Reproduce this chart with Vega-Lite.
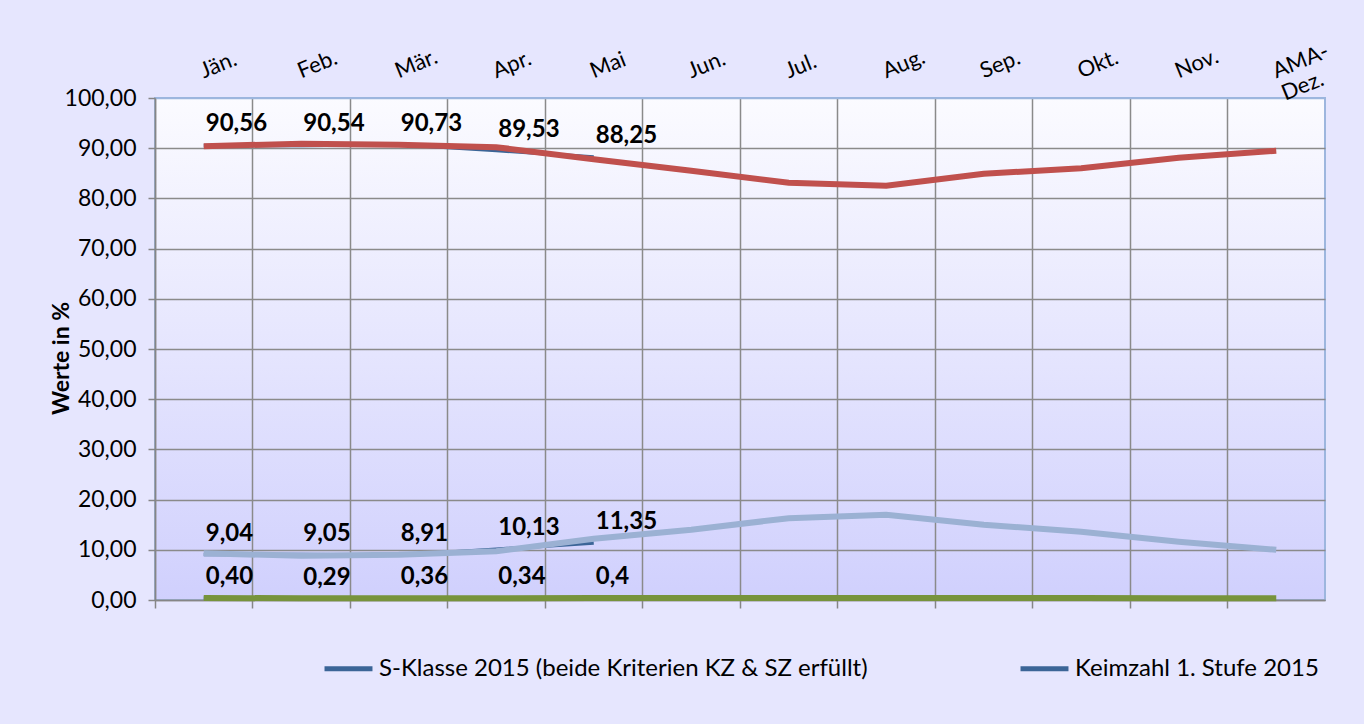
{
  "$schema": "https://vega.github.io/schema/vega-lite/v6.json",
  "width": 1170,
  "height": 502,
  "autosize": {"type": "none"},
  "padding": {"left": 155, "top": 98, "right": 39, "bottom": 124},
  "background": "#e6e6fe",
  "view": {
    "fill": {"gradient": "linear", "x1": 0, "y1": 0, "x2": 0, "y2": 1, "stops": [{"offset": 0, "color": "#fbfbff"}, {"offset": 1, "color": "#d0d0fd"}]},
    "stroke": "#9db6de",
    "strokeWidth": 2
  },
  "config": {"font": "Lato"},
  "data": {
    "values": [
      {"monat": "Jän.", "serie": "S-Klasse 2015 (beide Kriterien KZ & SZ erfüllt)", "wert": 90.56, "label": "90,56"},
      {"monat": "Feb.", "serie": "S-Klasse 2015 (beide Kriterien KZ & SZ erfüllt)", "wert": 90.54, "label": "90,54"},
      {"monat": "Mär.", "serie": "S-Klasse 2015 (beide Kriterien KZ & SZ erfüllt)", "wert": 90.73, "label": "90,73"},
      {"monat": "Apr.", "serie": "S-Klasse 2015 (beide Kriterien KZ & SZ erfüllt)", "wert": 89.53, "label": "89,53"},
      {"monat": "Mai", "serie": "S-Klasse 2015 (beide Kriterien KZ & SZ erfüllt)", "wert": 88.25, "label": "88,25"},
      {"monat": "Jän.", "serie": "Keimzahl 1. Stufe 2015", "wert": 9.04, "label": "9,04"},
      {"monat": "Feb.", "serie": "Keimzahl 1. Stufe 2015", "wert": 9.05, "label": "9,05"},
      {"monat": "Mär.", "serie": "Keimzahl 1. Stufe 2015", "wert": 8.91, "label": "8,91"},
      {"monat": "Apr.", "serie": "Keimzahl 1. Stufe 2015", "wert": 10.13, "label": "10,13"},
      {"monat": "Mai", "serie": "Keimzahl 1. Stufe 2015", "wert": 11.35, "label": "11,35"},
      {"monat": "Jän.", "serie": "Zellzahl 2015", "wert": 0.40, "label": "0,40"},
      {"monat": "Feb.", "serie": "Zellzahl 2015", "wert": 0.29, "label": "0,29"},
      {"monat": "Mär.", "serie": "Zellzahl 2015", "wert": 0.36, "label": "0,36"},
      {"monat": "Apr.", "serie": "Zellzahl 2015", "wert": 0.34, "label": "0,34"},
      {"monat": "Mai", "serie": "Zellzahl 2015", "wert": 0.40, "label": "0,4"},
      {"monat": "Jän.", "serie": "S-Klasse Vorjahr", "wert": 90.4},
      {"monat": "Feb.", "serie": "S-Klasse Vorjahr", "wert": 90.9},
      {"monat": "Mär.", "serie": "S-Klasse Vorjahr", "wert": 90.7},
      {"monat": "Apr.", "serie": "S-Klasse Vorjahr", "wert": 90.2},
      {"monat": "Mai", "serie": "S-Klasse Vorjahr", "wert": 87.8},
      {"monat": "Jun.", "serie": "S-Klasse Vorjahr", "wert": 85.5},
      {"monat": "Jul.", "serie": "S-Klasse Vorjahr", "wert": 83.1},
      {"monat": "Aug.", "serie": "S-Klasse Vorjahr", "wert": 82.5},
      {"monat": "Sep.", "serie": "S-Klasse Vorjahr", "wert": 84.9},
      {"monat": "Okt.", "serie": "S-Klasse Vorjahr", "wert": 86.0},
      {"monat": "Nov.", "serie": "S-Klasse Vorjahr", "wert": 88.1},
      {"monat": "Dez.", "serie": "S-Klasse Vorjahr", "wert": 89.5},
      {"monat": "Jän.", "serie": "Keimzahl 1. Stufe Vorjahr", "wert": 9.3},
      {"monat": "Feb.", "serie": "Keimzahl 1. Stufe Vorjahr", "wert": 8.8},
      {"monat": "Mär.", "serie": "Keimzahl 1. Stufe Vorjahr", "wert": 9.0},
      {"monat": "Apr.", "serie": "Keimzahl 1. Stufe Vorjahr", "wert": 9.7},
      {"monat": "Mai", "serie": "Keimzahl 1. Stufe Vorjahr", "wert": 12.2},
      {"monat": "Jun.", "serie": "Keimzahl 1. Stufe Vorjahr", "wert": 14.0},
      {"monat": "Jul.", "serie": "Keimzahl 1. Stufe Vorjahr", "wert": 16.3},
      {"monat": "Aug.", "serie": "Keimzahl 1. Stufe Vorjahr", "wert": 17.0},
      {"monat": "Sep.", "serie": "Keimzahl 1. Stufe Vorjahr", "wert": 15.0},
      {"monat": "Okt.", "serie": "Keimzahl 1. Stufe Vorjahr", "wert": 13.6},
      {"monat": "Nov.", "serie": "Keimzahl 1. Stufe Vorjahr", "wert": 11.6},
      {"monat": "Dez.", "serie": "Keimzahl 1. Stufe Vorjahr", "wert": 10.0},
      {"monat": "Jän.", "serie": "Zellzahl Vorjahr", "wert": 0.40},
      {"monat": "Feb.", "serie": "Zellzahl Vorjahr", "wert": 0.35},
      {"monat": "Mär.", "serie": "Zellzahl Vorjahr", "wert": 0.37},
      {"monat": "Apr.", "serie": "Zellzahl Vorjahr", "wert": 0.36},
      {"monat": "Mai", "serie": "Zellzahl Vorjahr", "wert": 0.38},
      {"monat": "Jun.", "serie": "Zellzahl Vorjahr", "wert": 0.38},
      {"monat": "Jul.", "serie": "Zellzahl Vorjahr", "wert": 0.41},
      {"monat": "Aug.", "serie": "Zellzahl Vorjahr", "wert": 0.42},
      {"monat": "Sep.", "serie": "Zellzahl Vorjahr", "wert": 0.40},
      {"monat": "Okt.", "serie": "Zellzahl Vorjahr", "wert": 0.41},
      {"monat": "Nov.", "serie": "Zellzahl Vorjahr", "wert": 0.37},
      {"monat": "Dez.", "serie": "Zellzahl Vorjahr", "wert": 0.37}
    ]
  },
  "encoding": {
    "x": {
      "field": "monat",
      "type": "nominal",
      "scale": {"type": "band", "domain": ["Jän.", "Feb.", "Mär.", "Apr.", "Mai", "Jun.", "Jul.", "Aug.", "Sep.", "Okt.", "Nov.", "Dez."], "paddingInner": 0, "paddingOuter": 0},
      "axis": null
    },
    "y": {
      "field": "wert",
      "type": "quantitative",
      "scale": {"domain": [0, 100], "nice": false},
      "axis": {
        "values": [0, 10, 20, 30, 40, 50, 60, 70, 80, 90, 100],
        "labelExpr": "replace(format(datum.value, '.2f'), '.', ',')",
        "labelFontSize": 23,
        "labelColor": "#000000",
        "labelPadding": 12,
        "tickSize": 7,
        "tickColor": "#868686",
        "tickWidth": 1.5,
        "domainColor": "#868686",
        "domainWidth": 1.5,
        "gridColor": {"condition": {"test": "datum.value === 100", "value": "#9db6de"}, "value": "#8a8a8a"},
        "gridWidth": 1.5,
        "title": "Werte in %",
        "titleFontSize": 23,
        "titleFontWeight": "bold",
        "titleColor": "#000000",
        "titleAngle": -90,
        "titleX": -94,
        "titleY": 260,
        "titleAlign": "center",
        "titleBaseline": "middle"
      }
    }
  },
  "resolve": {"axis": {"x": "independent"}},
  "layer": [
    {
      "transform": [{"filter": "datum.serie === 'S-Klasse 2015 (beide Kriterien KZ & SZ erfüllt)' || datum.serie === 'Keimzahl 1. Stufe 2015'"}],
      "mark": {"type": "line", "strokeWidth": 3.5},
      "encoding": {
        "x": {
          "field": "monat",
          "type": "nominal",
          "scale": {"type": "band", "domain": ["Jän.", "Feb.", "Mär.", "Apr.", "Mai", "Jun.", "Jul.", "Aug.", "Sep.", "Okt.", "Nov.", "Dez."], "paddingInner": 0, "paddingOuter": 0},
          "axis": {
            "orient": "bottom",
            "labels": false,
            "title": null,
            "bandPosition": 0,
            "tickSize": 8,
            "tickColor": "#868686",
            "tickWidth": 1.5,
            "domainColor": "#868686",
            "domainWidth": 1.5,
            "grid": true,
            "gridColor": "#8a8a8a",
            "gridWidth": 1.5
          }
        },
        "color": {
          "field": "serie",
          "type": "nominal",
          "scale": {"domain": ["S-Klasse 2015 (beide Kriterien KZ & SZ erfüllt)", "Keimzahl 1. Stufe 2015"], "range": ["#3b6597", "#3b6597"]},
          "legend": {
            "orient": "none",
            "legendX": 167,
            "legendY": 544,
            "direction": "horizontal",
            "title": null,
            "symbolType": "stroke",
            "symbolStrokeWidth": 5,
            "symbolSize": 2300,
            "symbolStrokeColor": "#3b6597",
            "labelFontSize": 24,
            "labelColor": "#000000",
            "labelLimit": 0,
            "labelOffset": 4,
            "columnPadding": 142
          }
        }
      }
    },
    {
      "transform": [{"filter": "datum.serie === 'Zellzahl 2015'"}],
      "mark": {"type": "line", "strokeWidth": 3.5, "color": "#3b6597"},
      "encoding": {}
    },
    {
      "transform": [{"filter": "datum.serie === 'S-Klasse Vorjahr'"}],
      "mark": {"type": "line", "strokeWidth": 6, "color": "#c0504d"},
      "encoding": {}
    },
    {
      "transform": [{"filter": "datum.serie === 'Keimzahl 1. Stufe Vorjahr'"}],
      "mark": {"type": "line", "strokeWidth": 6, "color": "#9bb1d3"},
      "encoding": {}
    },
    {
      "transform": [{"filter": "datum.serie === 'Zellzahl Vorjahr'"}],
      "mark": {"type": "line", "strokeWidth": 6, "color": "#77933c"},
      "encoding": {}
    },
    {
      "transform": [{"filter": "isValid(datum.label)"}],
      "mark": {"type": "text", "align": "left", "baseline": "middle", "dx": 2, "dy": -21, "fontSize": 24, "fontWeight": "bold", "color": "#000000"},
      "encoding": {
        "x": {
          "field": "monat",
          "type": "nominal",
          "scale": {"type": "band", "domain": ["Jän.", "Feb.", "Mär.", "Apr.", "Mai", "Jun.", "Jul.", "Aug.", "Sep.", "Okt.", "Nov.", "Dez."], "paddingInner": 0, "paddingOuter": 0},
          "axis": {
            "orient": "top",
            "title": null,
            "ticks": false,
            "domain": false,
            "grid": false,
            "bandPosition": 0.5,
            "labelAngle": -22,
            "labelAlign": "left",
            "labelBaseline": "alphabetic",
            "labelPadding": 20,
            "labelFontSize": 22,
            "labelColor": "#000000",
            "labelOverlap": false,
            "labelExpr": "datum.value === 'Dez.' ? ['AMA-', 'Dez.'] : datum.label"
          }
        },
        "text": {"field": "label"}
      }
    }
  ]
}
